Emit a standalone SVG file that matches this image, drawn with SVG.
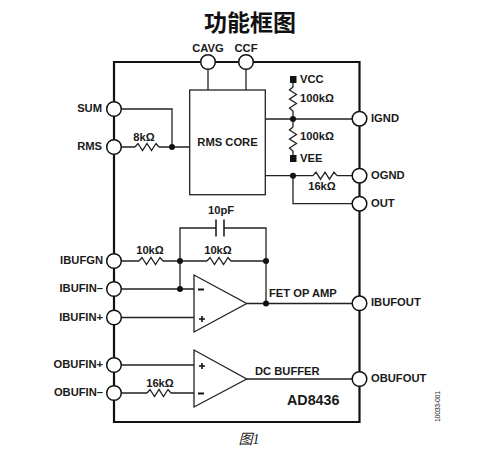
<svg xmlns="http://www.w3.org/2000/svg" width="478" height="476" viewBox="0 0 478 476">
<style>
text{font-family:"Liberation Sans",Arial,sans-serif;font-weight:700;font-size:11.200px;fill:#1a1a1a}
.w{fill:none;stroke:#222;stroke-width:1.300}
.b{fill:none;stroke:#111;stroke-width:2.200}
.p{fill:#fff;stroke:#111;stroke-width:1.500}
.d{fill:#111}
.e{text-anchor:end}
.m{text-anchor:middle}
</style>
<defs>
<path id="rh" d="M0 0l3-3.500 4.500 7 4.500-7 4.500 7 4.500-7 3 3.500" fill="none" stroke="#222" stroke-width="1.300"/>
<path id="rv" d="M0 0l-3.500 3 7 4.500-7 4.500 7 4.500-7 4.500 3.500 3" fill="none" stroke="#222" stroke-width="1.300"/>
</defs>
<text x="250" y="31" class="m" style="font-family:'Noto Sans CJK SC',sans-serif;font-size:23px;font-weight:700;fill:#111">功能框图</text>
<g id="connectors">
<path class="b" d="M114 62H359.500V422H114Z"/>
<path class="w" d="M208 62V90M246 62V90"/>
<path class="w" d="M114 109H172V147M114 147H135M159 147H190"/>
<path class="w" d="M265 119H360M293 83V87M293 111V127M293 151V157M265 175.700H313M337 175.700H360M293 175.700V203.700H360"/>
<path class="w" d="M114 261H139M163 261H207M231 261H266V303.500M180 261V289M114 289H194M114 317.500H194M180 261V228H216M224 228H266V261M246.700 303.500H360"/>
<path class="w" d="M216 219.500V236.500M224 219.500V236.500" style="stroke-width:1.600"/>
<path class="w" d="M114 365H194M114 393H147M171 393H194M246.700 379H360"/>
<use href="#rh" x="135" y="147"/>
<use href="#rh" x="139" y="261"/>
<use href="#rh" x="207" y="261"/>
<use href="#rh" x="147" y="393"/>
<use href="#rh" x="313" y="175.700"/>
<use href="#rv" x="293" y="87"/>
<use href="#rv" x="293" y="127"/>
<circle class="d" cx="172" cy="147" r="3"/>
<circle class="d" cx="293" cy="119" r="3"/>
<circle class="d" cx="293" cy="175.700" r="3"/>
<circle class="d" cx="180" cy="261" r="3"/>
<circle class="d" cx="266" cy="261" r="3"/>
<circle class="d" cx="180" cy="289" r="3"/>
<circle class="d" cx="266" cy="303.500" r="3"/>
<rect class="d" x="290" y="76" width="6.500" height="7"/>
<rect class="d" x="290" y="155" width="6.500" height="7"/>
</g>
<g id="core"><rect class="w" x="189.700" y="90" width="75.600" height="104.700" style="fill:#fff"/><text x="227.500" y="146" class="m">RMS CORE</text></g>
<g id="fetamp"><path class="w" d="M194 275V332L246.700 303.500Z" style="fill:#fff"/><path d="M198 289.500h6" stroke="#111" stroke-width="2"/><path d="M199 319h6M202 316v6" stroke="#111" stroke-width="1.600"/></g>
<g id="dcbuf"><path class="w" d="M194 350V407L246.700 379Z" style="fill:#fff"/><path d="M199 366h6M202 363v6" stroke="#111" stroke-width="1.600"/><path d="M198 393.500h6" stroke="#111" stroke-width="2"/></g>
<g id="pins">
<circle class="p" cx="208" cy="62" r="7.300"/><circle class="p" cx="246" cy="62" r="7.300"/>
<circle class="p" cx="114" cy="109" r="7.300"/><circle class="p" cx="114" cy="147" r="7.300"/>
<circle class="p" cx="114" cy="261" r="7.300"/><circle class="p" cx="114" cy="289" r="7.300"/><circle class="p" cx="114" cy="317.500" r="7.300"/>
<circle class="p" cx="114" cy="365" r="7.300"/><circle class="p" cx="114" cy="393" r="7.300"/>
<circle class="p" cx="359.500" cy="118.700" r="7.300"/><circle class="p" cx="359.500" cy="175.700" r="7.300"/><circle class="p" cx="359.500" cy="203.700" r="7.300"/>
<circle class="p" cx="359.500" cy="303.300" r="7.300"/><circle class="p" cx="359.500" cy="379" r="7.300"/>
</g>
<g id="labels">
<text x="208" y="52" class="m">CAVG</text><text x="246" y="52" class="m">CCF</text>
<text x="102" y="112" class="e">SUM</text><text x="102" y="150" class="e">RMS</text>
<text x="144" y="141" class="m">8kΩ</text>
<text x="300" y="83">VCC</text><text x="300" y="102">100kΩ</text><text x="300" y="140">100kΩ</text><text x="300" y="162">VEE</text>
<text x="371" y="122">IGND</text><text x="371" y="179">OGND</text><text x="371" y="207">OUT</text>
<text x="322" y="190" class="m">16kΩ</text>
<text x="221" y="214" class="m">10pF</text>
<text x="150" y="254" class="m">10kΩ</text><text x="218" y="254" class="m">10kΩ</text>
<text x="103" y="264" class="e">IBUFGN</text><text x="103" y="292" class="e">IBUFIN–</text><text x="103" y="321" class="e">IBUFIN+</text>
<text x="103" y="368" class="e">OBUFIN+</text><text x="103" y="396" class="e">OBUFIN–</text>
<text x="160" y="387" class="m">16kΩ</text>
<text x="269" y="297">FET OP AMP</text><text x="255" y="375">DC BUFFER</text>
<text x="371" y="306">IBUFOUT</text><text x="371" y="382">OBUFOUT</text>
<text x="287" y="405" style="font-size:14.300px">AD8436</text>
<text transform="translate(440 422) rotate(-90)" style="font-size:7px;font-weight:400;letter-spacing:-.3px">10033-001</text>
<text x="249" y="444" class="m" style="font-family:'Noto Sans CJK SC',serif;font-size:14px;font-weight:400;font-style:italic">图<tspan style="font-family:'Liberation Serif'">1</tspan></text>
</g>
</svg>
